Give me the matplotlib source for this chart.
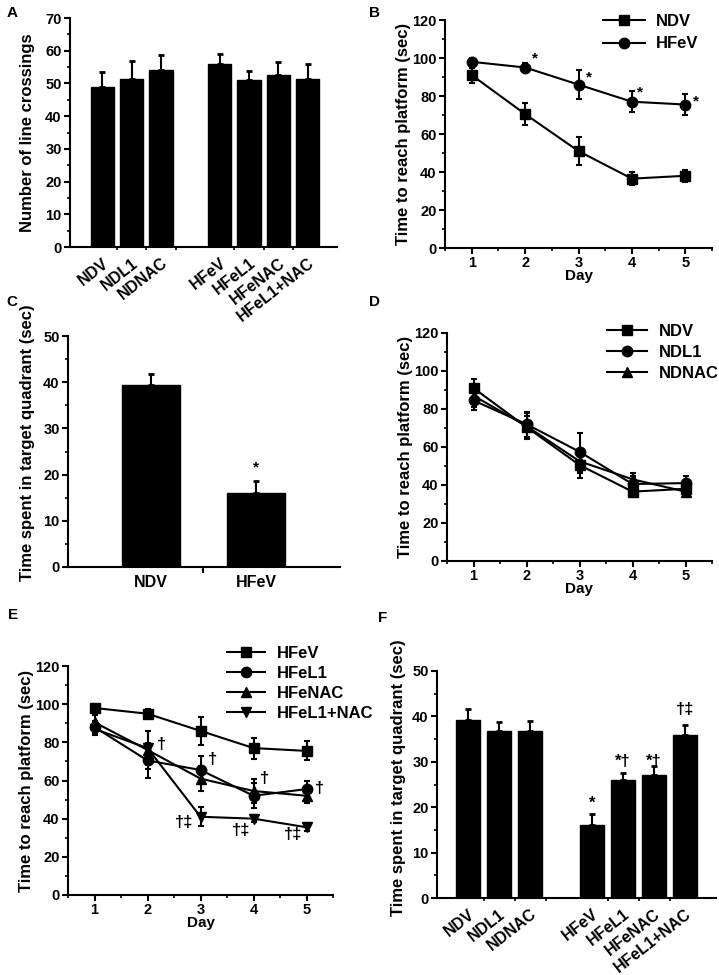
import numpy as np
import matplotlib
matplotlib.use("Agg")
import matplotlib.pyplot as plt
from matplotlib.ticker import MultipleLocator, FixedLocator
from matplotlib.lines import Line2D
from matplotlib.transforms import ScaledTranslation

plt.rcParams['font.family'] = ['Liberation Sans', 'DejaVu Sans']
plt.rcParams['font.weight'] = 'bold'
plt.rcParams['axes.labelweight'] = 'bold'
plt.rcParams['font.size'] = 11

# ---- data ----
groups7 = ["NDV", "NDL1", "NDNAC", "HFeV", "HFeL1", "HFeNAC", "HFeL1+NAC"]
pos7 = [0, 1, 2, 4, 5, 6, 7]

# A: line crossings
a_mean = [49.0, 51.5, 54.0, 56.0, 51.2, 52.6, 51.4]
a_err = [4.5, 5.5, 4.7, 3.0, 2.6, 4.0, 4.4]

days = [1, 2, 3, 4, 5]

# B
b_ndv = [91, 70.5, 51, 36.5, 38]
b_ndv_err = [4, 6, 7.5, 3.5, 3]
b_hfev = [98, 95, 86, 77, 75.5]
b_hfev_err = [2, 2.5, 7.5, 5.5, 5.5]
b_star_x = [2.18, 3.19, 4.16, 5.2]
b_star_y = [100, 90, 82, 77]

# C
c_groups = ["NDV", "HFeV"]
c_mean = [39.3, 16.1]
c_err = [2.4, 2.5]

# D
d_ndv = [91, 70.5, 50.5, 36.5, 38]
d_ndv_err = [5, 6, 7, 3, 3]
d_ndl1 = [84.5, 72, 57.5, 40.5, 41]
d_ndl1_err = [5, 6.5, 10, 4, 4]
d_ndnac = [87, 71, 52.5, 43, 36.5]
d_ndnac_err = [6, 7, 6, 3.5, 3]

# E
e_hfev = [98, 95, 86, 77, 75.5]
e_hfev_err = [2, 2.5, 7.5, 5.5, 5]
e_hfel1 = [88, 70.5, 65.5, 52, 55.5]
e_hfel1_err = [3, 9, 7.5, 6.5, 4]
e_hfenac = [90.5, 76, 61, 54.5, 52]
e_hfenac_err = [4, 10, 6.5, 6.5, 4]
e_combo = [87, 77, 41, 40, 35.5]
e_combo_err = [3, 9, 5, 2, 2]
e_dag_x = [2.26, 3.23, 4.21, 5.25]
e_dag_y = [79, 71, 61, 56]
e_ddag_x = [2.70, 3.77, 4.75]
e_ddag_y = [38, 34, 31.5]

# F
f_mean = [39.3, 36.7, 36.7, 16.1, 26.1, 27.0, 35.8]
f_err = [2.4, 2.1, 2.3, 2.5, 1.5, 2.1, 2.3]
f_marks = ["", "", "", "*", "*†", "*†", "†‡"]
f_mark_y = [0, 0, 0, 20.9, 30.0, 30.0, 41.6]

W, H = 719, 975
fig = plt.figure(figsize=(W / 100, H / 100), dpi=100)


def box(l, r, t, b):
    return [l / W, 1 - b / H, (r - l) / W, (b - t) / H]


def style(ax):
    for s in ["top", "right"]:
        ax.spines[s].set_visible(False)
    for s in ["left", "bottom"]:
        ax.spines[s].set_linewidth(1.5)
    ax.tick_params(which="major", direction="out", length=4, width=1.5, labelsize=10.5, pad=2)
    ax.tick_params(which="minor", direction="out", length=2.5, width=1.2)


def bar_panel(ax, pos, means, errs, labels, ymax, width, xlim, rot, shift=0.0):
    ax.bar(pos, means, width=width, color="black", edgecolor="black")
    ax.errorbar(pos, means, yerr=[np.zeros(len(errs)), errs], fmt="none",
                ecolor="black", elinewidth=1.5, capsize=2, capthick=2)
    style(ax)
    ax.set_xlim(*xlim)
    ax.set_ylim(0, ymax)
    ax.yaxis.set_major_locator(MultipleLocator(10))
    ax.yaxis.set_minor_locator(MultipleLocator(5))
    ax.set_xticks(pos)
    if rot:
        ax.set_xticklabels(labels, rotation=38, ha="right", rotation_mode="anchor",
                           fontsize=11.5)
        off = ScaledTranslation(shift, 0, fig.dpi_scale_trans)
        for lab in ax.get_xticklabels():
            lab.set_transform(lab.get_transform() + off)
    else:
        ax.set_xticklabels(labels, fontsize=11.5)
    ax.tick_params(axis="x", which="major", length=0, pad=6)
    mids = [p + 0.5 for p in pos[:-1]] if len(pos) > 2 else [0.5]
    ax.xaxis.set_minor_locator(FixedLocator(mids))


def line_panel(ax, series):
    for y, e, m in series:
        ax.errorbar(days, y, yerr=e, color="black", marker=m, markersize=7.5,
                    lw=1.5, elinewidth=1.5, capsize=2, capthick=1.5)
    style(ax)
    ax.set_xlim(0.5, 5.5)
    ax.set_ylim(0, 120)
    ax.set_xticks(days)
    ax.xaxis.set_minor_locator(MultipleLocator(0.5))
    ax.yaxis.set_major_locator(MultipleLocator(20))
    ax.yaxis.set_minor_locator(MultipleLocator(10))
    ax.set_xlabel("Day", labelpad=-1, fontsize=11)
    ax.set_ylabel("Time to reach platform (sec)", fontsize=12)


def legend_at(ax, names, markers, x, y, spacing, hlen):
    handles = [Line2D([], [], color="black", marker=m, markersize=7.5, lw=1.5)
               for m in markers]
    ax.legend(handles, names, frameon=False, loc="upper left",
              bbox_to_anchor=(x / W, 1 - y / H), bbox_transform=fig.transFigure,
              borderpad=0, borderaxespad=0, handlelength=hlen,
              handletextpad=0.7, labelspacing=spacing, fontsize=12)


# A
axA = fig.add_axes(box(70, 337, 18, 247))
bar_panel(axA, pos7, a_mean, a_err, groups7, 70, 0.8, (-1.1, 8.0), True, 0.12)
axA.set_ylabel("Number of line crossings", fontsize=12)
axA.yaxis.set_label_coords(-0.131, 0.5)

# B
axB = fig.add_axes(box(445, 712, 20, 248))
line_panel(axB, [(b_ndv, b_ndv_err, "s"), (b_hfev, b_hfev_err, "o")])
axB.yaxis.set_label_coords(-0.128, 0.5)
for x, y in zip(b_star_x, b_star_y):
    axB.text(x, y, "*", ha="center", va="center", fontsize=11)
legend_at(axB, ["NDV", "HFeV"], ["s", "o"], 603, 14, 0.45, 2.5)

# C
axC = fig.add_axes(box(68, 340, 336, 567))
bar_panel(axC, [0, 1], c_mean, c_err, c_groups, 50, 0.55, (-0.79, 1.8), False)
axC.tick_params(axis="x", which="minor", length=4, width=1.5)
axC.text(1, 21.6, "*", ha="center", va="center", fontsize=11)
axC.set_ylabel("Time spent in target quadrant (sec)", fontsize=12)
axC.yaxis.set_label_coords(-0.121, 0.54)

# D
axD = fig.add_axes(box(447, 712, 333, 561))
line_panel(axD, [(d_ndv, d_ndv_err, "s"), (d_ndl1, d_ndl1_err, "o"),
                 (d_ndnac, d_ndnac_err, "^")])
axD.yaxis.set_label_coords(-0.13, 0.5)
legend_at(axD, ["NDV", "NDL1", "NDNAC"], ["s", "o", "^"], 607, 324, 0.35, 2.4)

# E
axE = fig.add_axes(box(68, 333, 666, 895))
line_panel(axE, [(e_hfev, e_hfev_err, "s"), (e_hfel1, e_hfel1_err, "o"),
                 (e_hfenac, e_hfenac_err, "^"), (e_combo, e_combo_err, "v")])
axE.yaxis.set_label_coords(-0.13, 0.5)
for x, y in zip(e_dag_x, e_dag_y):
    axE.text(x, y, "†", ha="center", va="center", fontsize=12)
for x, y in zip(e_ddag_x, e_ddag_y):
    axE.text(x, y, "†‡", ha="center", va="center", fontsize=12)
legend_at(axE, ["HFeV", "HFeL1", "HFeNAC", "HFeL1+NAC"], ["s", "o", "^", "v"],
          227, 646, 0.3, 2.3)

# F
axF = fig.add_axes(box(437, 716, 671, 898))
bar_panel(axF, pos7, f_mean, f_err, groups7, 50, 0.8, (-1.0, 8.0), True, 0.07)
for p, t, y in zip(pos7, f_marks, f_mark_y):
    if t:
        axF.text(p, y, t, ha="center", va="center", fontsize=12)
axF.set_ylabel("Time spent in target quadrant (sec)", fontsize=12)
axF.yaxis.set_label_coords(-0.111, 0.53)

# panel letters
for lab, x, y in [("A", 12, 13), ("B", 375, 13), ("C", 12, 302),
                  ("D", 374, 302), ("E", 13, 615), ("F", 383, 618)]:
    fig.text(x / W, 1 - y / H, lab, ha="center", va="center",
             fontsize=11, fontweight="bold")

fig.savefig("out.png", dpi=100)
